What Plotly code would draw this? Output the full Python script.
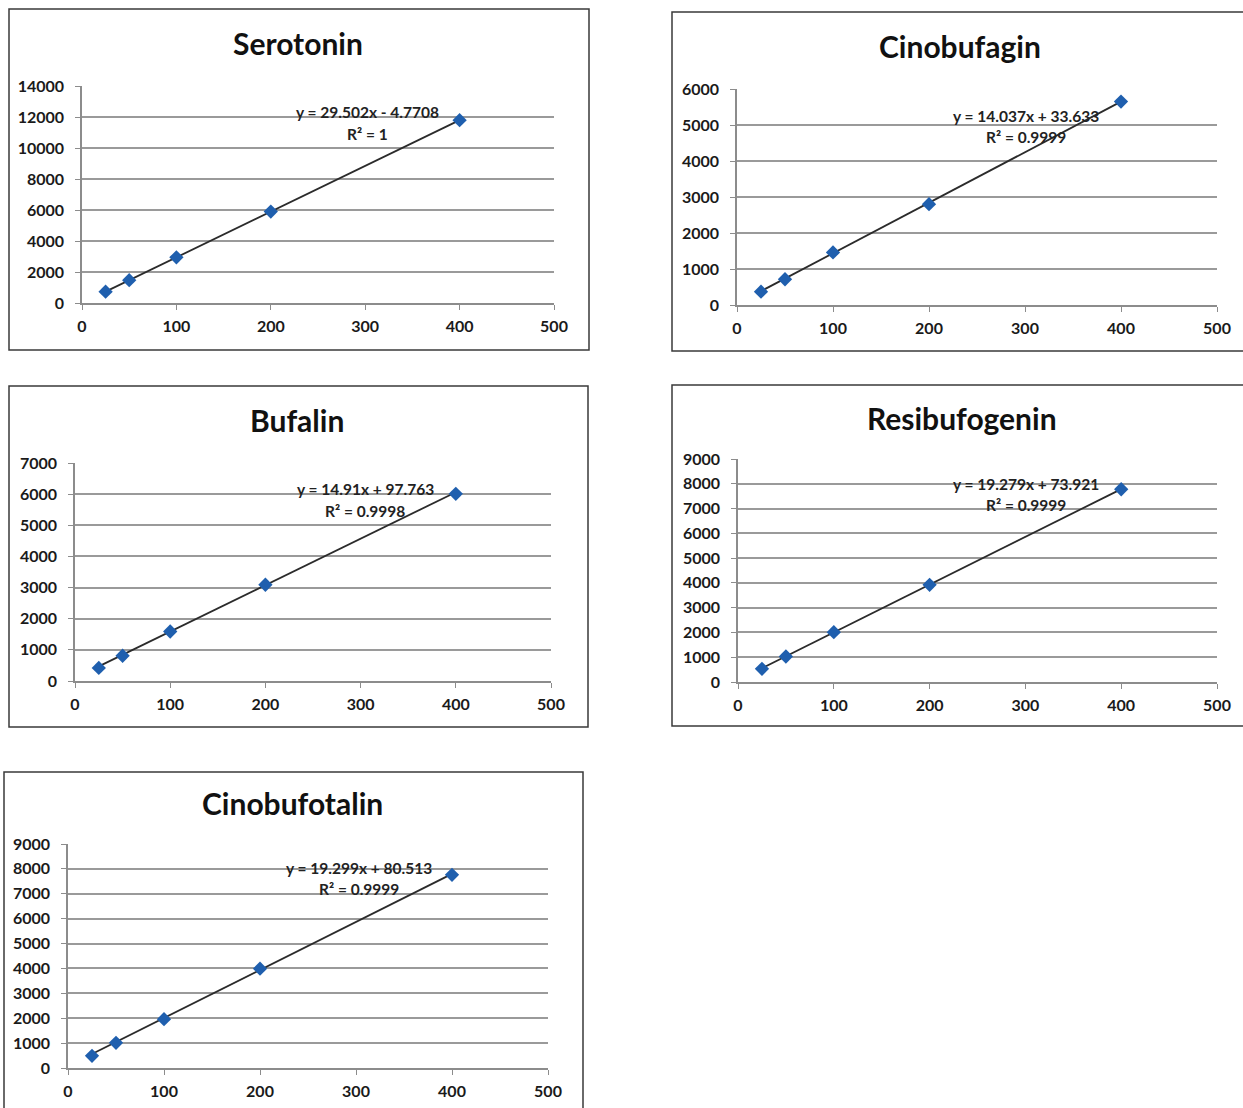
import plotly.graph_objects as go

W, H = 1243, 1108

conc = [25, 50, 100, 200, 400]
x_ticks = [0, 100, 200, 300, 400, 500]

names = ["Serotonin", "Cinobufagin", "Bufalin", "Resibufogenin", "Cinobufotalin"]
serotonin = [733, 1470, 2945, 5896, 11796]
cinobufagin = [370, 715, 1460, 2800, 5650]
bufalin = [420, 810, 1590, 3090, 6010]
resibufogenin = [530, 1030, 2010, 3920, 7780]
cinobufotalin = [490, 1010, 1960, 3990, 7760]
series = [serotonin, cinobufagin, bufalin, resibufogenin, cinobufotalin]

slopes = [29.502, 14.037, 14.91, 19.279, 19.299]
intercepts = [-4.7708, 33.633, 97.763, 73.921, 80.513]
eq_texts = ["y = 29.502x - 4.7708", "y = 14.037x + 33.633", "y = 14.91x + 97.763",
            "y = 19.279x + 73.921", "y = 19.299x + 80.513"]
r2_texts = ["R² = 1", "R² = 0.9999", "R² = 0.9998", "R² = 0.9999", "R² = 0.9999"]
y_max = [14000, 6000, 7000, 9000, 9000]
y_step = [2000, 1000, 1000, 1000, 1000]

# layout geometry (pixels)
plot_px = [(82, 554, 86, 303), (737, 1217, 89, 305), (75, 551, 463, 681),
           (738, 1217, 459, 682), (68, 548, 844, 1068)]
box_px = [(9, 589, 9, 350), (672, 1256, 12, 351), (9, 588, 386, 727),
          (672, 1256, 385, 726), (4, 583, 772, 1125)]
title_px = [(298, 43), (960, 46), (297, 420), (962, 418), (292, 803)]
eq_pos = [(302, 12330, 10917), (301, 5250, 4667), (305, 6166, 5459),
          (300.6, 7990, 7143), (302.7, 8035, 7192)]

fig = go.Figure()
FONT = "Lato"
TICKFONT = dict(family=FONT, size=16, color="#1a1a1a", weight="bold")
for i in range(5):
    k = "" if i == 0 else str(i + 1)
    x0, x1, y0, y1 = plot_px[i]
    yt = list(range(0, y_max[i] + 1, y_step[i]))
    fig.update_layout(**{
        f"xaxis{k}": dict(domain=[x0 / W, x1 / W], range=[0, 500], tickvals=x_ticks,
                          showgrid=False, zeroline=False, showline=True, linecolor="#8c8c8c",
                          linewidth=1.5, ticks="outside", ticklen=5, tickcolor="#8c8c8c",
                          ticklabelstandoff=3, automargin=False,
                          tickfont=TICKFONT, anchor=f"y{k}", fixedrange=True),
        f"yaxis{k}": dict(domain=[1 - y1 / H, 1 - y0 / H], range=[0, y_max[i]],
                          tickvals=yt, ticktext=[str(v) for v in yt],
                          showgrid=True, gridcolor="#9a9a9a", gridwidth=2, zeroline=False,
                          showline=True, linecolor="#8c8c8c", linewidth=1.5,
                          ticks="outside", ticklen=5, tickcolor="#8c8c8c",
                          ticklabelstandoff=8, automargin=False,
                          tickfont=TICKFONT, anchor=f"x{k}", fixedrange=True),
    })
    xr = [conc[0], conc[-1]]
    fig.add_trace(go.Scatter(x=xr, y=[slopes[i] * v + intercepts[i] for v in xr], mode="lines",
                             line=dict(color="#2b2b2b", width=1.8), xaxis=f"x{k}", yaxis=f"y{k}",
                             showlegend=False, hoverinfo="skip"))
    fig.add_trace(go.Scatter(x=conc, y=series[i], mode="markers",
                             marker=dict(symbol="diamond", size=11, color="#1f5fae"),
                             xaxis=f"x{k}", yaxis=f"y{k}", showlegend=False, name=names[i]))
    bx0, bx1, by0, by1 = box_px[i]
    fig.add_shape(type="rect", xref="paper", yref="paper", x0=bx0 / W, x1=bx1 / W,
                  y0=1 - by1 / H, y1=1 - by0 / H, line=dict(color="#3a3a3a", width=1.5),
                  fillcolor="rgba(0,0,0,0)", layer="below")
    tx, ty = title_px[i]
    fig.add_annotation(x=tx / W, y=1 - ty / H, xref="paper", yref="paper", text=names[i],
                       showarrow=False, xanchor="center", yanchor="middle",
                       font=dict(family=FONT, size=30, color="#111111", weight="bold"))
    ex, ey1, ey2 = eq_pos[i]
    fig.add_annotation(x=ex, y=ey1, xref=f"x{k}", yref=f"y{k}", text=eq_texts[i], showarrow=False,
                       xanchor="center", yanchor="middle",
                       font=dict(family=FONT, size=15.5, color="#222222", weight="bold"))
    fig.add_annotation(x=ex, y=ey2, xref=f"x{k}", yref=f"y{k}", text=r2_texts[i], showarrow=False,
                       xanchor="center", yanchor="middle",
                       font=dict(family=FONT, size=15.5, color="#222222", weight="bold"))

fig.update_layout(width=W, height=H, margin=dict(l=0, r=0, t=0, b=0, autoexpand=False),
                  paper_bgcolor="white", plot_bgcolor="white")
fig.write_html("out.html")
